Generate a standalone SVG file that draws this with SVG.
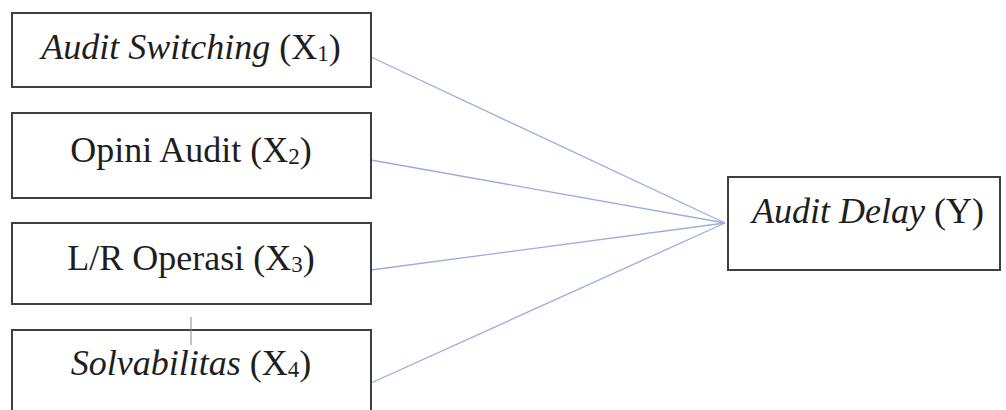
<svg xmlns="http://www.w3.org/2000/svg" width="1006" height="410" viewBox="0 0 1006 410">
<style>
.box{fill:#fff;stroke:#3f3f3f;stroke-width:2}
.lbl{font-size:36px;fill:#1e1e1e;text-anchor:middle}
.it{font-style:italic}
.sub{font-size:23px}
.con{stroke:#9aaedb;stroke-width:1.3;fill:none}
</style>
<rect width="1006" height="410" fill="#fff"/>
<g id="connectors">
<line class="con" x1="371" y1="57" x2="725" y2="223"/>
<line class="con" x1="371" y1="160" x2="725" y2="223"/>
<line class="con" x1="371" y1="270" x2="725" y2="223"/>
<line class="con" x1="371" y1="383" x2="725" y2="223"/>
</g>
<g id="x1">
<rect class="box" x="12" y="13" width="359" height="74"/>
<text class="lbl" font-family="Liberation Serif" x="191" y="59"><tspan class="it">Audit Switching</tspan> (X<tspan class="sub" dy="2">1</tspan><tspan dy="-2">)</tspan></text>
</g>
<g id="x2">
<rect class="box" x="12" y="113" width="359" height="85"/>
<text class="lbl" font-family="Liberation Serif" x="191" y="162">Opini Audit (X<tspan class="sub" dy="2">2</tspan><tspan dy="-2">)</tspan></text>
</g>
<g id="x3">
<rect class="box" x="12" y="223" width="359" height="81"/>
<text class="lbl" font-family="Liberation Serif" x="191" y="270">L/R Operasi (X<tspan class="sub" dy="2">3</tspan><tspan dy="-2">)</tspan></text>
</g>
<g id="x4">
<rect class="box" x="12" y="330" width="359" height="90"/>
<text class="lbl" font-family="Liberation Serif" x="191" y="375"><tspan class="it">Solvabilitas</tspan> (X<tspan class="sub" dy="2">4</tspan><tspan dy="-2">)</tspan></text>
</g>
<line x1="191" y1="317" x2="191" y2="345" stroke="#888" stroke-width="1"/>
<g id="y">
<rect class="box" x="728" y="177" width="272" height="93"/>
<text class="lbl" font-family="Liberation Serif" x="868" y="223"><tspan class="it">Audit Delay</tspan> (Y)</text>
</g>
</svg>
